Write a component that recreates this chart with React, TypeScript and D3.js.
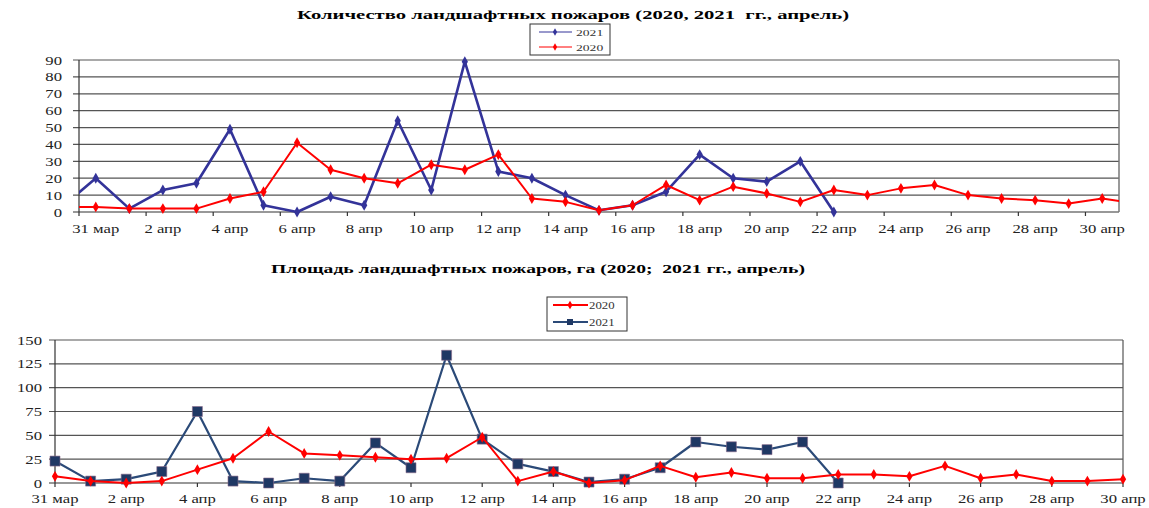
import * as d3 from "d3";

// categories: 31 мар .. 30 апр
const days: string[] = [
  "31 мар", "1 апр", "2 апр", "3 апр", "4 апр", "5 апр", "6 апр", "7 апр",
  "8 апр", "9 апр", "10 апр", "11 апр", "12 апр", "13 апр", "14 апр", "15 апр",
  "16 апр", "17 апр", "18 апр", "19 апр", "20 апр", "21 апр", "22 апр", "23 апр",
  "24 апр", "25 апр", "26 апр", "27 апр", "28 апр", "29 апр", "30 апр",
];

// top chart: number of fires
const count2021: number[] = [
  20, 2, 13, 17, 49, 4, 0, 9, 4, 54, 13, 89, 24, 20, 10, 1, 4, 12, 34, 20, 18, 30, 0,
];
const count2020: number[] = [
  3, 2, 2, 2, 8, 12, 41, 25, 20, 17, 28, 25, 34, 8, 6, 1, 4, 16, 7, 15, 11, 6, 13,
  10, 14, 16, 10, 8, 7, 5, 8,
];
// values just outside the visible range (lines run into the plot edge)
const count2021Before = 3; // 30 мар
const count2020Before = 3; // 30 мар
const count2020After = 5; // 1 мая
const countTicks: number[] = [0, 10, 20, 30, 40, 50, 60, 70, 80, 90];

// bottom chart: area, ha
const area2020: number[] = [
  7, 2, 0, 2, 14, 26, 54, 31, 29, 27, 25, 26, 48, 2, 12, 0, 3, 18, 6, 11, 5, 5, 9,
  9, 7, 18, 5, 9, 2, 2, 4,
];
const area2021: number[] = [
  23, 2, 4, 12, 75, 2, 0, 5, 2, 42, 16, 134, 46, 20, 12, 1, 4, 16, 43, 38, 35, 43, 0,
];
const areaTicks: number[] = [0, 25, 50, 75, 100, 125, 150];

const FONT = "'Liberation Serif', 'Times New Roman', 'DejaVu Serif', serif";
const RED = "#ff0000";
const BLUE_TOP = "#333399";
const BLUE_BOT = "#2b4a78";
const BLUE_BOT_MARK = "#1f3864";
const GRID = "#555";
const STRETCH = 1.45; // the source picture is widened horizontally

// text drawn with the same horizontal stretch as the source image
function SText(props: {
  x: number; y: number; size: number; anchor?: string; bold?: boolean;
  fill?: string; sx?: number; children: any;
}) {
  const { x, y, size, anchor = "start", bold = false, fill = "#222", sx = STRETCH } = props;
  return (
    <text
      transform={`translate(${x},${y}) scale(${sx},1)`}
      textAnchor={anchor}
      fontFamily={FONT}
      fontSize={size}
      fontWeight={bold ? "bold" : "normal"}
      fill={fill}
      style={{ whiteSpace: "pre" }}
    >
      {props.children}
    </text>
  );
}

type Pt = { i: number; v: number };

function TopChart() {
  const left = 79, right = 1119, top = 60, bottom = 212;
  const x = d3.scaleLinear().domain([-0.5, days.length - 0.5]).range([left, right]);
  const y = d3.scaleLinear().domain([0, 90]).range([bottom, top]);
  const line = d3.line<Pt>().x((d) => x(d.i)).y((d) => y(d.v));
  const diamond = d3.symbol().type(d3.symbolDiamond).size(34)();

  const s2021: Pt[] = [{ i: -1, v: count2021Before }, ...count2021.map((v, i) => ({ i, v }))];
  const s2020: Pt[] = [
    { i: -1, v: count2020Before },
    ...count2020.map((v, i) => ({ i, v })),
    { i: days.length, v: count2020After },
  ];
  const tickIdx = d3.range(0, days.length + 1, 2);

  return (
    <g>
      <text
        x={573} y={19} textAnchor="middle" fontFamily={FONT} fontWeight="bold" fontSize={11.5}
        textLength={552} lengthAdjust="spacingAndGlyphs" style={{ whiteSpace: "pre" }}
      >
        Количество ландшафтных пожаров (2020, 2021  гг., апрель)
      </text>
      <defs>
        <clipPath id="clipTop">
          <rect x={left} y={top - 5} width={right - left} height={bottom - top + 10} />
        </clipPath>
      </defs>
      {/* legend */}
      <rect x={530} y={24} width={80} height={31} fill="#fff" stroke="#333" strokeWidth={1} />
      <line x1={539} x2={572} y1={32} y2={32} stroke={BLUE_TOP} strokeWidth={1} />
      <path d={d3.symbol().type(d3.symbolDiamond).size(16)()} transform="translate(555,32)" fill={BLUE_TOP} />
      <SText x={576} y={35.5} size={8.5} fill="#333" sx={1.6}>2021</SText>
      <line x1={539} x2={572} y1={47} y2={47} stroke={RED} strokeWidth={1} />
      <path d={d3.symbol().type(d3.symbolDiamond).size(16)()} transform="translate(555,47)" fill={RED} />
      <SText x={576} y={50.5} size={8.5} fill="#333" sx={1.6}>2020</SText>

      {/* grid */}
      {countTicks.map((t) => (
        <g key={t}>
          <line x1={left - 6} x2={right} y1={y(t)} y2={y(t)} stroke={t === 0 ? "#333" : GRID} strokeWidth={1.2} />
          <SText x={left - 17} y={y(t) + 4.5} size={11.5} anchor="end">{t}</SText>
        </g>
      ))}
      <line x1={left} x2={left} y1={top} y2={bottom} stroke="#333" strokeWidth={1.2} />
      <line x1={right} x2={right} y1={top} y2={bottom} stroke="#777" strokeWidth={1.5} />
      {tickIdx.map((k) => (
        <line key={k} x1={x(k - 0.5)} x2={x(k - 0.5)} y1={bottom} y2={bottom + 4} stroke="#333" strokeWidth={1.2} />
      ))}
      {days.map((d, i) =>
        i % 2 === 0 ? (
          <SText key={d} x={x(i)} y={233} size={11.5} anchor="middle">{d}</SText>
        ) : null
      )}

      <g clipPath="url(#clipTop)">
        <path d={line(s2021) ?? ""} fill="none" stroke={BLUE_TOP} strokeWidth={2.6} strokeLinejoin="round" />
        <path d={line(s2020) ?? ""} fill="none" stroke={RED} strokeWidth={2} strokeLinejoin="round" />
      </g>
      {count2021.map((v, i) => (
        <path key={"b" + i} d={diamond} transform={`translate(${x(i)},${y(v)})`} fill={BLUE_TOP} />
      ))}
      {count2020.map((v, i) => (
        <path key={"r" + i} d={diamond} transform={`translate(${x(i)},${y(v)})`} fill={RED} />
      ))}
    </g>
  );
}

function BottomChart() {
  const left = 55, right = 1123, top = 340, bottom = 483;
  const x = d3.scaleLinear().domain([0, days.length - 1]).range([left, right]);
  const y = d3.scaleLinear().domain([0, 150]).range([bottom, top]);
  const line = d3.line<number>().x((_, i) => x(i)).y((d) => y(d));
  const diamond = d3.symbol().type(d3.symbolDiamond).size(34)();
  const square = d3.symbol().type(d3.symbolSquare).size(100)();
  const tickIdx = d3.range(0, days.length, 2);

  return (
    <g>
      <text
        x={538} y={273} textAnchor="middle" fontFamily={FONT} fontWeight="bold" fontSize={11.5}
        textLength={534} lengthAdjust="spacingAndGlyphs" style={{ whiteSpace: "pre" }}
      >
        Площадь ландшафтных пожаров, га (2020;  2021 гг., апрель)
      </text>
      {/* legend */}
      <rect x={547} y={297} width={80} height={34} fill="#fff" stroke="#333" strokeWidth={1} />
      <line x1={553} x2={588} y1={305} y2={305} stroke={RED} strokeWidth={2} />
      <path d={d3.symbol().type(d3.symbolDiamond).size(22)()} transform="translate(570,305)" fill={RED} />
      <SText x={589} y={308.5} size={9.5} fill="#333" sx={1.35}>2020</SText>
      <line x1={553} x2={588} y1={322} y2={322} stroke={BLUE_BOT} strokeWidth={2} />
      <path d={d3.symbol().type(d3.symbolSquare).size(36)()} transform="translate(570,322)" fill={BLUE_BOT_MARK} />
      <SText x={589} y={325.5} size={9.5} fill="#333" sx={1.35}>2021</SText>

      {areaTicks.map((t) => (
        <g key={t}>
          <line x1={left - 6} x2={right} y1={y(t)} y2={y(t)} stroke={t === 0 ? "#333" : GRID} strokeWidth={1.2} />
          <SText x={left - 13} y={y(t) + 4.5} size={11.5} anchor="end">{t}</SText>
        </g>
      ))}
      <line x1={left} x2={left} y1={top} y2={bottom} stroke="#333" strokeWidth={1.2} />
      <line x1={right} x2={right} y1={top} y2={bottom} stroke="#555" strokeWidth={1.2} />
      {tickIdx.map((k) => (
        <line key={k} x1={x(k)} x2={x(k)} y1={bottom} y2={bottom + 4} stroke="#333" strokeWidth={1.2} />
      ))}
      {days.map((d, i) =>
        i % 2 === 0 ? (
          <SText key={d} x={x(i)} y={503} size={11.5} anchor="middle">{d}</SText>
        ) : null
      )}

      <path d={line(area2021) ?? ""} fill="none" stroke={BLUE_BOT} strokeWidth={2.2} strokeLinejoin="round" />
      {area2021.map((v, i) => (
        <path key={"b" + i} d={square} transform={`translate(${x(i)},${y(v)})`} fill={BLUE_BOT_MARK} stroke="#8a6a8a" strokeWidth={0.6} />
      ))}
      <path d={line(area2020) ?? ""} fill="none" stroke={RED} strokeWidth={2} strokeLinejoin="round" />
      {area2020.map((v, i) => (
        <path key={"r" + i} d={diamond} transform={`translate(${x(i)},${y(v)})`} fill={RED} />
      ))}
    </g>
  );
}

export default function App() {
  return (
    <svg
      width={1149}
      height={508}
      style={{ position: "absolute", left: 0, top: 0, background: "#fff" }}
    >
      <rect width={1149} height={508} fill="#fff" />
      <TopChart />
      <BottomChart />
    </svg>
  );
}
